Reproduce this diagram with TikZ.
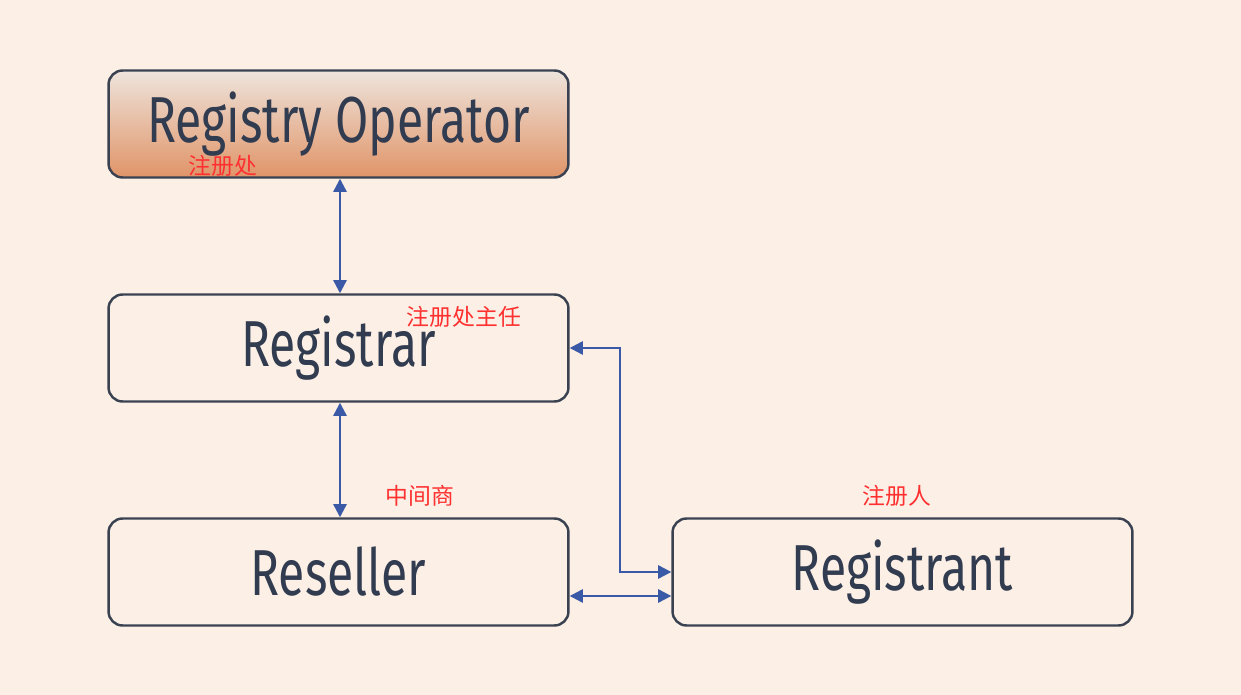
\documentclass[tikz,border=0pt]{standalone}
\usepackage{fontspec}
\usetikzlibrary{arrows.meta}
\newfontfamily\boxfont[FakeStretch=0.74]{Fira Sans}
\newfontfamily\cjk{Noto Sans CJK SC}
\definecolor{bgpaper}{RGB}{252,240,230}
\definecolor{boxline}{RGB}{58,66,82}
\definecolor{boxtext}{RGB}{50,60,80}
\definecolor{linkblue}{RGB}{58,90,168}
\definecolor{notered}{RGB}{255,48,48}
\definecolor{optop}{RGB}{238,228,220}
\definecolor{opbot}{RGB}{224,148,104}
\begin{document}
\begin{tikzpicture}[x=0.02cm,y=-0.02cm,
    entity/.style={draw=boxline, line width=1.4pt, rounded corners=8pt, fill=bgpaper,
        minimum width=9.2cm, minimum height=2.14cm, text=boxtext,
        font=\boxfont\fontsize{37}{40}\selectfont},
    link/.style={draw=linkblue, line width=1.3pt,
        {Triangle[length=7.5pt,width=7.5pt]}-{Triangle[length=7.5pt,width=7.5pt]}},
    note/.style={text=notered, font=\cjk\fontsize{13}{15}\selectfont}]
    \fill[bgpaper] (0,0) rectangle (1241,695);
    \useasboundingbox (0,0) rectangle (1241,695);
    % boxes
    \node[entity, top color=optop, bottom color=opbot] (op) at (338.5,124) {Registry Operator};
    \node[entity] (rar) at (338.5,348) {Registrar};
    \node[entity] (res) at (338.5,572) {Reseller};
    \node[entity] (ant) at (902.5,572) {Registrant};
    % labels
    \node[note] (opnote) at (223,166) {注册处};
    \node[note] (rarnote) at (464,317) {注册处主任};
    \node[note] (resnote) at (420,496) {中间商};
    \node[note] (antnote) at (897,496) {注册人};
    % links
    \draw[link] ([xshift=0.03cm]op.south) -- ([xshift=0.03cm]rar.north);
    \draw[link] ([xshift=0.03cm]rar.south) -- ([xshift=0.03cm]res.north);
    \draw[link] (rar.east) -- ++(50,0) |- (ant.west);
    \draw[link] ([yshift=-0.48cm]res.east) -- ([yshift=-0.48cm]ant.west);
\end{tikzpicture}
\end{document}
